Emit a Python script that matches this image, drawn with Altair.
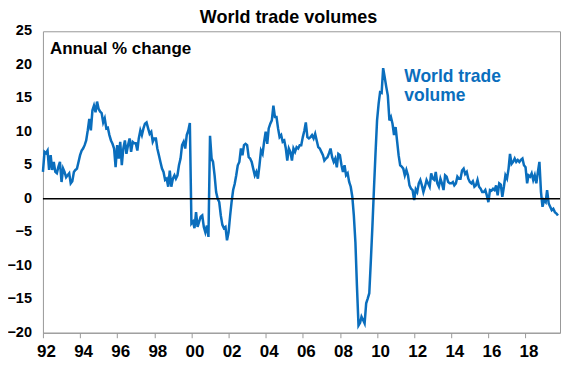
import altair as alt
import pandas as pd

# Annual % change in world trade volume, monthly Jan 1992 - Oct 2019
v1992 = [4.0, 7.0, 6.8, 7.2, 4.3, 6.5, 4.3, 5.5, 4.0, 3.8, 4.8, 5.5]
v1993 = [2.5, 4.5, 4.0, 3.2, 3.5, 3.8, 2.3, 2.6, 4.0, 4.3, 4.5, 5.5]
v1994 = [6.5, 7.2, 7.5, 8.0, 8.7, 10.2, 11.9, 10.2, 13.2, 13.9, 12.9, 14.5]
v1995 = [13.4, 13.0, 12.8, 11.4, 12.0, 10.5, 10.6, 9.5, 8.7, 8.2, 7.5, 4.7]
v1996 = [8.0, 6.0, 8.5, 5.0, 7.5, 8.7, 6.7, 8.0, 9.0, 7.0, 8.5, 8.3]
v1997 = [8.3, 7.2, 9.0, 10.2, 9.5, 10.5, 11.2, 11.4, 10.5, 9.7, 10.0, 8.5]
v1998 = [9.0, 9.0, 7.5, 6.5, 5.5, 4.5, 4.0, 2.8, 3.0, 1.8, 4.2, 1.8]
v1999 = [3.0, 3.5, 3.0, 3.5, 5.0, 6.0, 8.0, 8.5, 7.5, 9.5, 10.2, 11.3]
v2000 = [-3.7, -3.4, -4.4, -2.0, -4.2, -3.4, -2.7, -2.5, -4.2, -5.0, -4.0, -5.7]
v2001 = [9.4, 6.0, 5.5, 3.5, 1.0, 0.0, -0.5, -2.5, -3.9, -4.4, -4.2, -6.2]
v2002 = [-5.0, -2.5, -0.5, 1.3, 2.2, 3.5, 5.0, 5.5, 7.5, 6.5, 8.0, 8.2]
v2003 = [8.0, 6.2, 6.0, 5.5, 4.5, 3.5, 4.0, 3.0, 5.0, 7.2, 6.7, 8.5]
v2004 = [10.0, 8.2, 10.5, 11.2, 11.7, 13.9, 12.2, 12.2, 10.5, 9.2, 9.5, 8.5]
v2005 = [8.7, 7.5, 5.7, 7.5, 7.0, 5.7, 7.5, 7.0, 7.7, 7.5, 8.0, 8.0]
v2006 = [9.2, 10.2, 11.4, 9.2, 9.0, 9.2, 9.5, 9.0, 9.7, 8.7, 7.7, 7.5]
v2007 = [7.0, 6.5, 5.7, 6.0, 6.2, 6.8, 7.5, 6.2, 5.5, 6.0, 4.7, 6.7]
v2008 = [6.5, 5.0, 4.0, 5.0, 3.5, 3.8, 2.5, 1.8, 0.3, -2.5, -6.5, -13.0]
v2009 = [-18.9, -18.5, -17.6, -18.1, -18.6, -15.6, -14.9, -14.1, -9.2, -4.2, 1.5, 6.7]
v2010 = [11.7, 14.2, 15.9, 15.8, 19.5, 18.1, 16.7, 15.4, 11.7, 12.2, 11.2, 9.5]
v2011 = [10.7, 8.5, 6.5, 5.0, 4.8, 4.5, 3.5, 4.3, 3.5, 2.0, 1.5, 1.3]
v2012 = [-0.2, 1.4, 1.0, 2.3, 2.8, 2.0, 1.0, 1.8, 2.8, 2.3, 1.8, 3.8]
v2013 = [3.0, 2.8, 4.0, 2.3, 1.8, 3.0, 2.3, 1.3, 3.5, 3.3, 2.5, 2.3]
v2014 = [2.3, 2.5, 2.0, 2.3, 3.3, 3.0, 3.0, 4.2, 4.5, 3.7, 4.0, 3.0]
v2015 = [2.5, 2.3, 2.6, 1.8, 2.0, 2.8, 1.8, 1.5, 1.0, 1.0, 1.3, 0.5]
v2016 = [-0.5, 1.3, 1.2, 1.5, 1.3, 2.0, 0.5, 2.3, 2.1, 0.3, 1.8, 3.5]
v2017 = [3.0, 4.5, 6.7, 5.2, 5.5, 6.0, 5.5, 5.8, 5.5, 5.8, 6.0, 5.0]
v2018 = [4.7, 2.3, 3.5, 3.3, 3.8, 2.8, 3.5, 2.3, 4.0, 5.5, 1.0, -1.2]
v2019 = [-0.2, -0.5, 1.3, -0.7, -1.2, -1.7, -1.5, -2.0, -2.2, -2.5]

tick_years = [1992, 1994, 1996, 1998, 2000, 2002, 2004, 2006, 2008, 2010, 2012, 2014, 2016, 2018]
y_ticks = [-20, -15, -10, -5, 0, 5, 10, 15, 20, 25]

values = (v1992 + v1993 + v1994 + v1995 + v1996 + v1997 + v1998 + v1999 + v2000 + v2001
          + v2002 + v2003 + v2004 + v2005 + v2006 + v2007 + v2008 + v2009 + v2010 + v2011
          + v2012 + v2013 + v2014 + v2015 + v2016 + v2017 + v2018 + v2019)
dates = pd.date_range("1992-01-01", periods=len(values), freq="MS")
df = pd.DataFrame({"date": dates, "value": values})

BLUE = "#0A6EBD"
FONT = "Liberation Sans"
Y_DOMAIN = [-20, 25]

x_enc = alt.X(
    "date:T",
    title=None,
    scale=alt.Scale(domain=[alt.DateTime(year=1992, month=1, date=1),
                            alt.DateTime(year=2019, month=11, date=10)]),
    axis=alt.Axis(
        values=[alt.DateTime(year=y, month=1, date=1) for y in tick_years],
        format="%y", grid=False, domainColor="#999999", tickColor="#999999",
        tickSize=5, labelPadding=6, labelFontSize=17, labelOffset=3,
        labelFlush=False, labelOverlap=False,
        labelFont=FONT, labelFontWeight="bold", labelColor="black",
    ),
)
y_enc = alt.Y(
    "value:Q",
    title=None,
    scale=alt.Scale(domain=Y_DOMAIN, nice=False, zero=False),
    axis=None,
)

line = alt.Chart(df).mark_line(color=BLUE, strokeWidth=2.5).encode(x=x_enc, y=y_enc)

zero = alt.Chart(pd.DataFrame({"z": [0]})).mark_rule(color="black", strokeWidth=1.3).encode(
    y=alt.Y("z:Q", scale=alt.Scale(domain=Y_DOMAIN), axis=None)
)

# y-axis tick labels drawn through the shared y scale
ylabels = alt.Chart(pd.DataFrame({"v": y_ticks})).mark_text(
    align="right", baseline="middle", font=FONT, fontWeight="bold", fontSize=14.5, color="black"
).encode(
    y=alt.Y("v:Q", scale=alt.Scale(domain=Y_DOMAIN), axis=None),
    x=alt.value(-11),
    text=alt.Text("v:Q", format="d"),
)

annual = alt.Chart(pd.DataFrame({"t": ["Annual % change"]})).mark_text(
    align="left", baseline="middle", font=FONT, fontWeight="bold", fontSize=17, color="black"
).encode(x=alt.value(7), y=alt.value(18), text="t:N")

label = alt.Chart(pd.DataFrame({"t": ["World trade"]})).mark_text(
    align="left", baseline="middle", font=FONT, fontWeight="bold", fontSize=17.5, color=BLUE,
    text=["World trade", "volume"], lineHeight=19,
).encode(x=alt.value(362), y=alt.value(46))

chart = alt.layer(line, zero, ylabels, annual, label).properties(
    width=518,
    height=302,
    title=alt.TitleParams(
        "World trade volumes", font=FONT, fontSize=18, fontWeight="bold",
        anchor="middle", dx=-13, offset=-4, color="black",
    ),
    autosize=alt.AutoSizeParams(type="none"),
    padding={"left": 35, "top": 23, "right": 2, "bottom": 30},
).configure_view(stroke="#999999", strokeWidth=1)

chart.save("out.html", embed_options={"renderer": "svg", "actions": False})
